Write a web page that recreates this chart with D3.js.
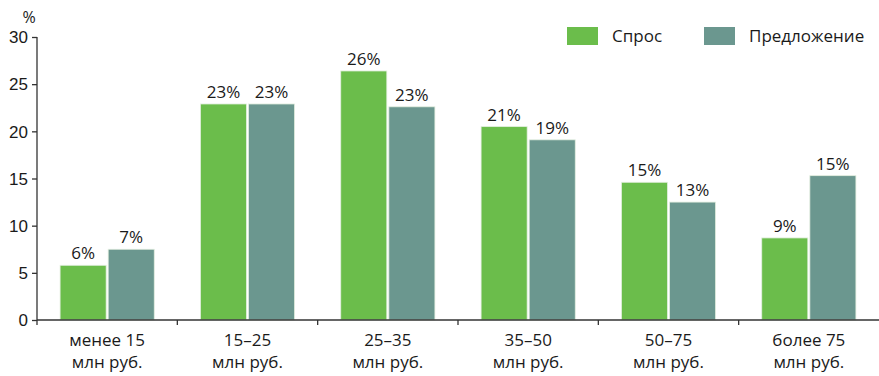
<!DOCTYPE html>
<html>
<head>
<meta charset="utf-8">
<script src="https://cdn.jsdelivr.net/npm/d3@7"></script>
<style>
    body { margin: 0; background: #fff; }
    svg { display: block; font-family: "Open Sans", "Noto Sans", sans-serif; }
    .axis path, .axis line { stroke: #333; stroke-width: 1.3; }
    .axis text { fill: #1a1a1a; font-size: 17px; }
</style>
</head>
<body>
<script>
// data
const categories = [["менее 15", "млн руб."], ["15–25", "млн руб."], ["25–35", "млн руб."],
    ["35–50", "млн руб."], ["50–75", "млн руб."], ["более 75", "млн руб."]]
const seriesNames = ["Спрос", "Предложение"]
const demand = [5.8, 22.9, 26.4, 20.5, 14.6, 8.7]
const supply = [7.5, 22.9, 22.6, 19.1, 12.5, 15.3]
const demandLabels = ["6%", "23%", "26%", "21%", "15%", "9%"]
const supplyLabels = ["7%", "23%", "23%", "19%", "13%", "15%"]
const yTicks = [0, 5, 10, 15, 20, 25, 30]
const colors = ["#6bbd4b", "#6b978f"]

const width = 879
const height = 376
const margin = {left: 37, right: 0, top: 37, bottom: 56}

const svg = d3.select("body")
    .append("svg")
    .attr("width", width)
    .attr("height", height)

const x = d3.scaleBand()
    .domain(d3.range(categories.length))
    .range([margin.left, width - margin.right])

const xs = d3.scaleBand()
    .domain([0, 1])
    .range([0, x.bandwidth()])
    .paddingOuter(0.48)
    .paddingInner(0.042)

const y = d3.scaleLinear()
    .domain([0, 30])
    .range([height - margin.bottom, margin.top])

// y axis
const yAxis = svg.append("g")
    .attr("class", "axis")
    .attr("transform", `translate(${margin.left},0)`)
    .call(d3.axisLeft(y).tickValues(yTicks).tickSize(5).tickPadding(4))
yAxis.select(".domain").attr("d", `M0,${y(30)}V${y(0)}`)
yAxis.selectAll("text").attr("dy", "0.34em")

svg.append("text")
    .attr("x", 29)
    .attr("y", 23)
    .attr("text-anchor", "middle")
    .attr("font-size", 16)
    .attr("fill", "#1a1a1a")
    .text("%")

// bars
const rows = categories.map((c, i) => [
    {s: 0, i, v: demand[i], label: demandLabels[i]},
    {s: 1, i, v: supply[i], label: supplyLabels[i]}
])

const groups = svg.append("g")
    .selectAll("g")
    .data(rows)
    .join("g")
    .attr("transform", (d, i) => `translate(${x(i)},0)`)

groups.selectAll("rect")
    .data(d => d)
    .join("rect")
    .attr("x", d => xs(d.s))
    .attr("width", xs.bandwidth())
    .attr("y", d => y(d.v))
    .attr("height", d => y(0) - y(d.v))
    .attr("fill", d => colors[d.s])
    .attr("stroke", "#e4efe0")
    .attr("stroke-width", 0.8)

groups.selectAll("text")
    .data(d => d)
    .join("text")
    .attr("x", d => xs(d.s) + xs.bandwidth() / 2)
    .attr("y", d => y(d.v) - 6)
    .attr("text-anchor", "middle")
    .attr("font-size", 17)
    .attr("fill", "#1a1a1a")
    .text(d => d.label)

// x axis
const xAxis = svg.append("g")
    .attr("class", "axis")
    .attr("transform", `translate(0,${y(0)})`)
xAxis.append("path")
    .attr("class", "domain")
    .attr("fill", "none")
    .attr("d", `M${margin.left},0H${width}`)
xAxis.selectAll("line")
    .data(d3.range(categories.length))
    .join("line")
    .attr("x1", i => x(i))
    .attr("x2", i => x(i))
    .attr("y1", 0)
    .attr("y2", 5)

const catText = xAxis.selectAll("text")
    .data(categories)
    .join("text")
    .attr("text-anchor", "middle")
    .attr("x", (d, i) => x(i) + x.bandwidth() / 2)
catText.selectAll("tspan")
    .data(d => d)
    .join("tspan")
    .attr("x", function () { return this.parentNode.getAttribute("x") })
    .attr("y", (d, j) => 26 + j * 22)
    .text(d => d)

// legend
const legend = svg.append("g")
    .selectAll("g")
    .data(seriesNames)
    .join("g")
    .attr("transform", (d, i) => `translate(${[567, 704][i]},27)`)
legend.append("rect")
    .attr("width", 31)
    .attr("height", 18)
    .attr("fill", (d, i) => colors[i])
legend.append("text")
    .attr("x", 45)
    .attr("y", 15)
    .attr("font-size", 17)
    .attr("fill", "#1a1a1a")
    .text(d => d)
</script>
</body>
</html>
